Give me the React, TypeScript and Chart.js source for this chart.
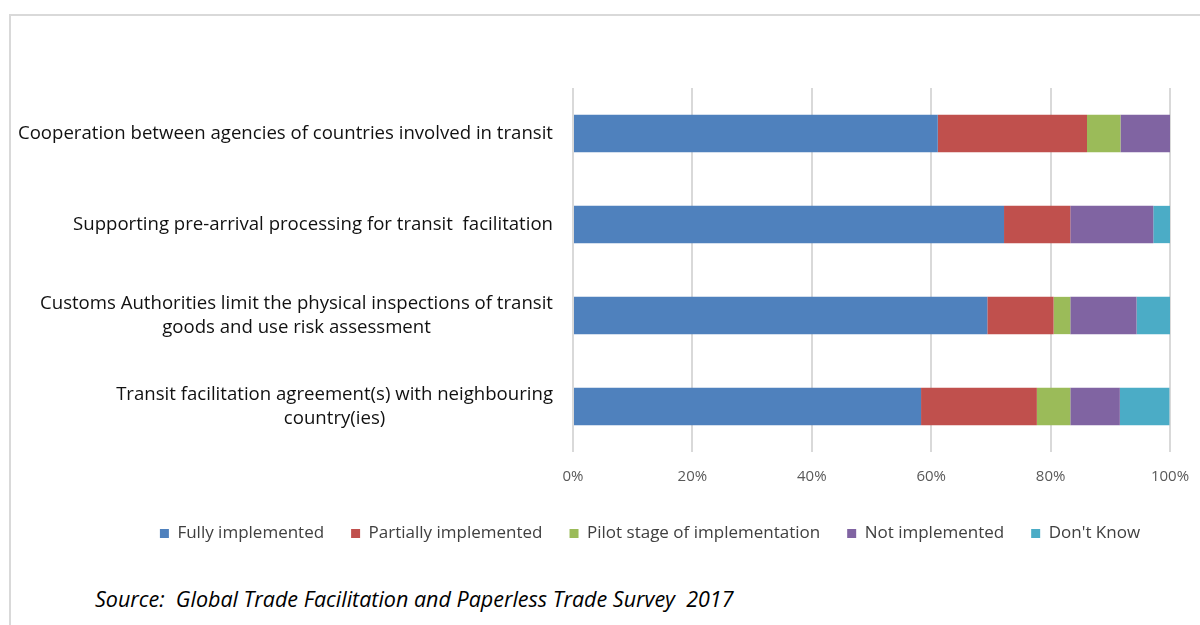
import React, { useEffect, useRef } from "react";
import { Chart, registerables } from "chart.js";

Chart.register(...registerables);

const categories: (string | string[])[] = [
  "Cooperation between agencies of countries involved in transit",
  "Supporting pre-arrival processing for transit  facilitation",
  ["Customs Authorities limit the physical inspections of transit", "goods and use risk assessment"],
  ["Transit facilitation agreement(s) with neighbouring", "country(ies)"],
];

const seriesNames = [
  "Fully implemented",
  "Partially implemented",
  "Pilot stage of implementation",
  "Not implemented",
  "Don't Know",
];

const fullyImplemented = [61.1, 72.2, 69.4, 58.3];
const partiallyImplemented = [25.0, 11.1, 11.1, 19.4];
const pilotStage = [5.6, 0, 2.8, 5.6];
const notImplemented = [8.3, 13.9, 11.1, 8.3];
const dontKnow = [0, 2.8, 5.6, 8.3];

const xTicks = [0, 20, 40, 60, 80, 100];

const colors = ["#4f81bd", "#c0504d", "#9bbb59", "#8064a2", "#4bacc6"];

const FONT = '"Open Sans", sans-serif';

export default function App() {
  const ref = useRef<HTMLCanvasElement | null>(null);

  useEffect(() => {
    if (!ref.current) return;
    const seriesValues = [fullyImplemented, partiallyImplemented, pilotStage, notImplemented, dontKnow];

    const yLabelPlugin = {
      id: "yLabels",
      afterDraw(chart: any) {
        const ctx = chart.ctx;
        const yScale = chart.scales.y;
        const right = chart.chartArea.left - 20;
        const lh = 24;
        ctx.save();
        ctx.font = `18.6px ${FONT}`;
        ctx.fillStyle = "#111111";
        ctx.textAlign = "center";
        ctx.textBaseline = "middle";
        categories.forEach((c, i) => {
          const lines = Array.isArray(c) ? c : [c];
          const py = yScale.getPixelForTick(i);
          const maxW = Math.max(...lines.map((l) => ctx.measureText(l).width));
          const cx = right - maxW / 2;
          const startY = py - ((lines.length - 1) * lh) / 2;
          lines.forEach((l, k) => ctx.fillText(l, cx, startY + k * lh));
        });
        ctx.restore();
      },
    };

    const chart = new Chart(ref.current, {
      type: "bar",
      data: {
        labels: categories.map((c) => (Array.isArray(c) ? c.join(" ") : c)),
        datasets: seriesNames.map((name, i) => ({
          label: name,
          data: seriesValues[i],
          backgroundColor: colors[i],
          borderWidth: 0,
          barPercentage: 0.41,
          categoryPercentage: 1,
        })),
      },
      options: {
        indexAxis: "y",
        animation: false,
        responsive: false,
        maintainAspectRatio: false,
        layout: { padding: { top: 88, left: 130, right: 130, bottom: 0 } },
        scales: {
          x: {
            stacked: true,
            min: 0,
            max: 100,
            afterBuildTicks: (s: any) => {
              s.ticks = xTicks.map((v) => ({ value: v }));
            },
            ticks: {
              callback: (v: any) => `${v}%`,
              color: "#595959",
              font: { family: FONT, size: 15 },
              padding: 16,
              maxRotation: 0,
            },
            grid: { color: "#d9d9d9", lineWidth: 2, drawTicks: false },
            border: { display: false },
            afterFit: (s: any) => {
              s.height = 46;
            },
          },
          y: {
            stacked: true,
            ticks: { display: false },
            grid: { display: false, drawTicks: false },
            border: { display: false },
            afterFit: (s: any) => {
              s.width = 443;
            },
          },
        },
        plugins: {
          legend: {
            position: "bottom",
            labels: {
              boxWidth: 9,
              boxHeight: 9,
              padding: 27,
              color: "#404040",
              font: { family: FONT, size: 17 },
            },
          },
          tooltip: { enabled: false },
        },
      },
      plugins: [yLabelPlugin],
    });
    return () => chart.destroy();
  }, []);

  return (
    <div
      style={{
        position: "fixed",
        left: 0,
        top: 0,
        width: 1200,
        height: 625,
        overflow: "hidden",
        background: "#fff",
      }}
    >
      <div
        style={{
          position: "absolute",
          left: 9,
          top: 14,
          width: 1400,
          height: 800,
          borderLeft: "2px solid #d9d9d9",
          borderTop: "2px solid #d9d9d9",
        }}
      />
      <canvas
        ref={ref}
        width={1300}
        height={552}
        style={{ position: "absolute", left: 0, top: 0, width: 1300, height: 552 }}
      />
      <div
        style={{
          position: "absolute",
          left: 95,
          top: 584,
          fontFamily: FONT,
          fontStyle: "italic",
          fontSize: 21.5,
          color: "#000",
          whiteSpace: "pre",
        }}
      >
        {"Source:  Global Trade Facilitation and Paperless Trade Survey  2017"}
      </div>
    </div>
  );
}
